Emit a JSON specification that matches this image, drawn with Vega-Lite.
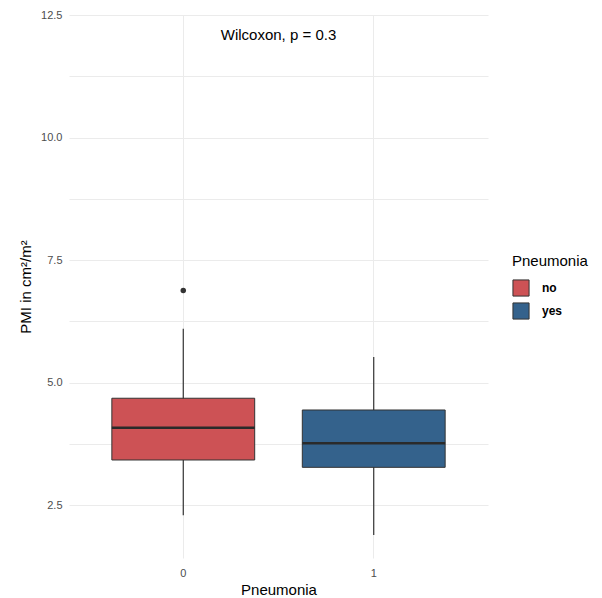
{
  "$schema": "https://vega.github.io/schema/vega-lite/v6.json",
  "width": 419,
  "height": 543,
  "autosize": {"type": "none"},
  "padding": {"left": 69, "top": 15, "right": 114, "bottom": 40},
  "background": "white",
  "config": {
    "view": {"stroke": null},
    "font": "Liberation Sans",
    "axis": {"domain": false, "ticks": false, "gridColor": "#ebebeb", "gridWidth": 1, "labelColor": "#4d4d4d", "labelFontSize": 11, "titleColor": "#000000", "titleFontSize": 15, "titleFontWeight": "normal"}
  },
  "datasets": {
    "boxes": [
      {"Pneumonia": "0", "label": "no", "lower": 2.29, "q1": 3.42, "median": 4.08, "q3": 4.68, "upper": 6.10},
      {"Pneumonia": "1", "label": "yes", "lower": 1.89, "q1": 3.27, "median": 3.76, "q3": 4.44, "upper": 5.52}
    ],
    "outliers": [
      {"Pneumonia": "0", "value": 6.88}
    ],
    "note": [
      {"text": "Wilcoxon, p = 0.3", "y": 12.09}
    ]
  },
  "encoding": {
    "x": {
      "field": "Pneumonia", "type": "nominal", "title": "Pneumonia",
      "scale": {"type": "band", "domain": ["0", "1"], "paddingInner": 0.25, "paddingOuter": 0.225},
      "axis": {"labelAngle": 0, "labelPadding": 9, "titlePadding": 4, "bandPosition": 0.5, "grid": true}
    }
  },
  "layer": [
    {
      "data": {"name": "boxes"},
      "mark": {"type": "rule", "color": "#333333", "strokeWidth": 1.2},
      "encoding": {
        "y": {
          "field": "lower", "type": "quantitative", "title": "PMI in cm²/m²",
          "scale": {"domain": [1.42, 12.5], "nice": false, "zero": false},
          "axis": {
            "values": [2.5, 3.75, 5, 6.25, 7.5, 8.75, 10, 11.25, 12.5],
            "labelExpr": "datum.value % 2.5 == 0 ? format(datum.value, '.1f') : ''",
            "labelPadding": 7, "titlePadding": 7
          }
        },
        "y2": {"field": "upper"}
      }
    },
    {
      "data": {"name": "boxes"},
      "mark": {"type": "bar", "stroke": "#333333", "strokeWidth": 1},
      "encoding": {
        "y": {"field": "q1", "type": "quantitative"},
        "y2": {"field": "q3"},
        "fill": {
          "field": "label", "type": "nominal", "title": "Pneumonia",
          "scale": {"domain": ["no", "yes"], "range": ["#cd5255", "#34628c"]},
          "legend": {
            "orient": "none", "legendX": 443, "legendY": 239,
            "symbolType": "square", "symbolSize": 260, "symbolStrokeColor": "#333333", "symbolStrokeWidth": 1, "symbolOpacity": 1,
            "titleFontSize": 15, "titleFontWeight": "normal", "titleColor": "#000000", "titlePadding": 10,
            "labelFontSize": 12, "labelFontWeight": "bold", "labelColor": "#000000", "labelOffset": 12, "rowPadding": 1
          }
        }
      }
    },
    {
      "data": {"name": "boxes"},
      "mark": {"type": "bar", "fill": null, "stroke": "#2a2a2a", "strokeWidth": 2.5},
      "encoding": {
        "y": {"field": "median", "type": "quantitative"},
        "y2": {"field": "median"}
      }
    },
    {
      "data": {"name": "outliers"},
      "mark": {"type": "point", "filled": true, "color": "#333333", "size": 30, "opacity": 1},
      "encoding": {
        "y": {"field": "value", "type": "quantitative"}
      }
    },
    {
      "data": {"name": "note"},
      "mark": {"type": "text", "fontSize": 15, "color": "#000000", "baseline": "middle", "align": "center"},
      "encoding": {
        "x": {"value": 209.5},
        "y": {"field": "y", "type": "quantitative"},
        "text": {"field": "text"}
      }
    }
  ]
}
